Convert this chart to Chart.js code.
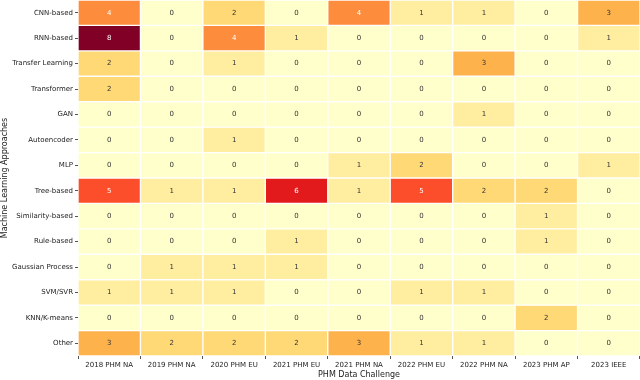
<!DOCTYPE html>
<html>
<head>
<meta charset="utf-8">
<script src="https://cdn.jsdelivr.net/npm/chart.js@4/dist/chart.umd.min.js"></script>
<style>
  html, body { margin: 0; padding: 0; background: #fff; }
  #wrap { width: 640px; height: 380px; }
</style>
</head>
<body>
<div id="wrap"><canvas id="heat"></canvas></div>
<script>
const challenges = ['2018 PHM NA', '2019 PHM NA', '2020 PHM EU', '2021 PHM EU', '2021 PHM NA', '2022 PHM EU', '2022 PHM NA', '2023 PHM AP', '2023 IEEE'];
const approaches = ['CNN-based', 'RNN-based', 'Transfer Learning', 'Transformer', 'GAN', 'Autoencoder', 'MLP', 'Tree-based', 'Similarity-based', 'Rule-based', 'Gaussian Process', 'SVM/SVR', 'KNN/K-means', 'Other'];

const cnn         = [4, 0, 2, 0, 4, 1, 1, 0, 3];
const rnn         = [8, 0, 4, 1, 0, 0, 0, 0, 1];
const transfer    = [2, 0, 1, 0, 0, 0, 3, 0, 0];
const transformer = [2, 0, 0, 0, 0, 0, 0, 0, 0];
const gan         = [0, 0, 0, 0, 0, 0, 1, 0, 0];
const autoenc     = [0, 0, 1, 0, 0, 0, 0, 0, 0];
const mlp         = [0, 0, 0, 0, 1, 2, 0, 0, 1];
const tree        = [5, 1, 1, 6, 1, 5, 2, 2, 0];
const similarity  = [0, 0, 0, 0, 0, 0, 0, 1, 0];
const rule        = [0, 0, 0, 1, 0, 0, 0, 1, 0];
const gaussian    = [0, 1, 1, 1, 0, 0, 0, 0, 0];
const svm         = [1, 1, 1, 0, 0, 1, 1, 0, 0];
const knn         = [0, 0, 0, 0, 0, 0, 0, 2, 0];
const other       = [3, 2, 2, 2, 3, 1, 1, 0, 0];

const rows = [cnn, rnn, transfer, transformer, gan, autoenc, mlp, tree, similarity, rule, gaussian, svm, knn, other];

// YlOrRd, vmin 0 .. vmax 8
const palette = ['#ffffcc', '#ffeda0', '#fed976', '#feb24c', '#fd8d3c', '#fc4e2a', '#e31a1c', '#bd0026', '#800026'];
const vmax = 8;
function colorFor(v) {
    const t = Math.max(0, Math.min(1, v / vmax)) * (palette.length - 1);
    return palette[Math.round(t)];
}

const datasets = rows.map((vals, r) => ({
    label: approaches[r],
    data: vals.map(() => [r, r + 1]),
    values: vals,
    backgroundColor: vals.map(colorFor),
    borderColor: '#ffffff',
    borderWidth: 1,
    borderSkipped: false,
    barPercentage: 1,
    categoryPercentage: 1,
    grouped: false
}));

const cellLabels = {
    id: 'cellLabels',
    afterDatasetsDraw(chart) {
        const ctx = chart.ctx;
        ctx.save();
        ctx.font = '7px "DejaVu Sans"';
        ctx.textAlign = 'center';
        ctx.textBaseline = 'middle';
        chart.data.datasets.forEach((ds, i) => {
            chart.getDatasetMeta(i).data.forEach((bar, j) => {
                const v = ds.values[j];
                ctx.fillStyle = v >= 4 ? '#ffffff' : '#333333';
                ctx.fillText(String(v), bar.x, (bar.y + bar.base) / 2);
            });
        });
        ctx.restore();
    }
};

new Chart(document.getElementById('heat').getContext('2d'), {
    type: 'bar',
    data: { labels: challenges, datasets: datasets },
    options: {
        responsive: true,
        maintainAspectRatio: false,
        animation: false,
        layout: { padding: 0 },
        plugins: { legend: { display: false }, tooltip: { enabled: false } },
        scales: {
            x: {
                grid: { display: true, drawOnChartArea: false, drawTicks: true, tickLength: 3, color: '#555' },
                border: { display: false },
                ticks: { autoSkip: false, color: '#222', font: { family: 'DejaVu Sans', size: 7 }, padding: 2, maxRotation: 0 },
                title: { display: true, text: 'PHM Data Challenge', color: '#222', font: { family: 'DejaVu Sans', size: 8 }, padding: { top: 1, bottom: 0 } },
                afterFit: s => { s.height = 24; s.paddingLeft = 0; s.paddingRight = 0; }
            },
            y: {
                min: 0,
                max: approaches.length,
                reverse: true,
                afterBuildTicks: s => { s.ticks = approaches.map((_, i) => ({ value: i + 0.5 })); },
                ticks: {
                    autoSkip: false,
                    color: '#222',
                    font: { family: 'DejaVu Sans', size: 7 },
                    padding: 2,
                    callback: v => approaches[Math.floor(v)]
                },
                grid: { display: true, drawOnChartArea: false, drawTicks: true, tickLength: 3, color: '#555' },
                border: { display: false },
                title: { display: true, text: 'Machine Learning Approaches', color: '#222', font: { family: 'DejaVu Sans', size: 8 }, padding: { top: 0, bottom: 0 } },
                afterFit: s => { s.width = 78; s.paddingTop = 0; s.paddingBottom = 0; }
            }
        }
    },
    plugins: [cellLabels]
});
</script>
</body>
</html>
